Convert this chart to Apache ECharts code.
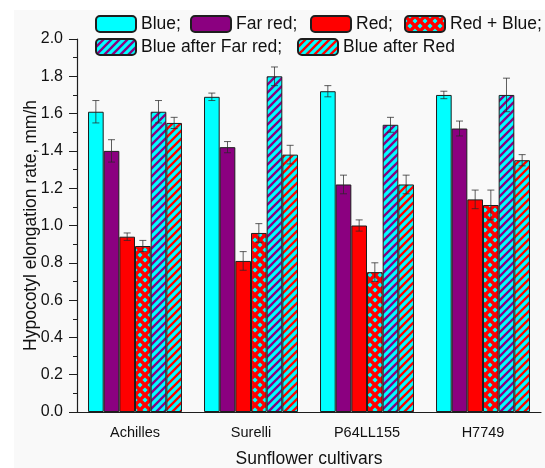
<!DOCTYPE html>
<html>
<head>
<meta charset="utf-8">
<script src="https://cdn.jsdelivr.net/npm/echarts@6/dist/echarts.min.js"></script>
<style>
  html, body { margin: 0; padding: 0; background: #ffffff; }
  #chart { width: 545px; height: 468px; }
</style>
</head>
<body>
<div id="chart"></div>
<script>
  // data
  var categories = ['Achilles', 'Surelli', 'P64LL155', 'H7749'];
  var seriesNames = ['Blue;', 'Far red;', 'Red;', 'Red + Blue;', 'Blue after Far red;', 'Blue after Red'];

  var blue = [1.61, 1.69, 1.72, 1.70];
  var farRed = [1.40, 1.42, 1.22, 1.52];
  var red = [0.94, 0.81, 1.00, 1.14];
  var redBlue = [0.89, 0.96, 0.75, 1.11];
  var blueAfterFarRed = [1.61, 1.80, 1.54, 1.70];
  var blueAfterRed = [1.55, 1.38, 1.22, 1.35];

  // standard errors
  var blueErr = [0.06, 0.02, 0.03, 0.02];
  var farRedErr = [0.06, 0.03, 0.05, 0.04];
  var redErr = [0.02, 0.05, 0.03, 0.05];
  var redBlueErr = [0.03, 0.05, 0.05, 0.08];
  var blueAfterFarRedErr = [0.06, 0.05, 0.04, 0.09];
  var blueAfterRedErr = [0.03, 0.05, 0.05, 0.03];

  var yTicks = [0, 0.2, 0.4, 0.6, 0.8, 1.0, 1.2, 1.4, 1.6, 1.8, 2.0];

  var values = [blue, farRed, red, redBlue, blueAfterFarRed, blueAfterRed];
  var errors = [blueErr, farRedErr, redErr, redBlueErr, blueAfterFarRedErr, blueAfterRedErr];

  var CYAN = '#00ffff';
  var PURPLE = '#8b0080';
  var RED = '#ff0000';
  var CAT_GAP = 0.19;

  // diagonal hatch tiles
  function stripes(bg, fg, size, lw) {
    var c = document.createElement('canvas');
    c.width = c.height = size;
    var g = c.getContext('2d');
    g.fillStyle = bg;
    g.fillRect(0, 0, size, size);
    g.strokeStyle = fg;
    g.lineWidth = lw;
    g.beginPath();
    for (var k = -1; k <= 1; k++) {
      g.moveTo(k * size - 1, size + 1);
      g.lineTo(k * size + size + 1, -1);
    }
    g.stroke();
    return c;
  }

  function cross(bg, fg, size, lw) {
    var c = stripes(bg, fg, size, lw);
    var g = c.getContext('2d');
    g.strokeStyle = fg;
    g.lineWidth = lw;
    g.beginPath();
    for (var k = -1; k <= 1; k++) {
      g.moveTo(k * size - 1, -1);
      g.lineTo(k * size + size + 1, size + 1);
    }
    g.stroke();
    return c;
  }

  var fills = [
    CYAN,
    PURPLE,
    RED,
    {image: cross(CYAN, RED, 10, 3.4), repeat: 'repeat'},
    {image: stripes(CYAN, PURPLE, 8, 2.4), repeat: 'repeat'},
    {image: stripes(CYAN, RED, 8, 2.4), repeat: 'repeat'}
  ];

  var legendPos = [[95, 15], [190, 15], [310, 15], [404, 15], [95, 38], [297, 38]];

  var barSeries = seriesNames.map(function (name, i) {
    return {
      name: name,
      type: 'bar',
      barGap: '0%',
      barCategoryGap: (CAT_GAP * 100) + '%',
      data: values[i],
      itemStyle: {color: fills[i], borderColor: '#1e1e1e', borderWidth: 1},
      emphasis: {disabled: true}
    };
  });

  var errData = [];
  errors.forEach(function (arr, s) {
    arr.forEach(function (e, c) {
      errData.push([c, s, values[s][c], e]);
    });
  });

  // error bars placed over each bar of the group
  var errSeries = {
    type: 'custom',
    z: 5,
    data: errData,
    encode: {x: 0, y: 2},
    renderItem: function (params, api) {
      var ci = api.value(0), si = api.value(1), v = api.value(2), e = api.value(3);
      var band = api.size([1, 0])[0];
      var groupW = band * (1 - CAT_GAP);
      var bw = groupW / seriesNames.length;
      var cx = api.coord([ci, v])[0] - groupW / 2 + (si + 0.5) * bw;
      var yTop = api.coord([ci, v + e])[1];
      var yBot = api.coord([ci, v - e])[1];
      var cap = 3.5;
      var st = {stroke: 'rgba(40,40,40,0.75)', lineWidth: 1};
      return {
        type: 'group',
        children: [
          {type: 'line', shape: {x1: cx, y1: yTop, x2: cx, y2: yBot}, style: st},
          {type: 'line', shape: {x1: cx - cap, y1: yTop, x2: cx + cap, y2: yTop}, style: st},
          {type: 'line', shape: {x1: cx - cap, y1: yBot, x2: cx + cap, y2: yBot}, style: st}
        ]
      };
    }
  };

  var font = 'Liberation Sans';

  var myChart = echarts.init(document.getElementById('chart'), null, {renderer: 'canvas'});
  myChart.setOption({
    animation: false,
    backgroundColor: '#ffffff',
    textStyle: {fontFamily: font},
    graphic: [{
      type: 'rect', z: -10, silent: true,
      shape: {x: 14, y: 10, width: 531, height: 458},
      style: {fill: '#f9f9f9'}
    }],
    legend: seriesNames.map(function (name, i) {
      return {
        data: [name],
        left: legendPos[i][0],
        top: legendPos[i][1],
        padding: 0,
        itemWidth: 40,
        itemHeight: 16,
        selectedMode: false,
        textStyle: {fontSize: 17.5, color: '#111', fontFamily: font}
      };
    }),
    grid: {left: 77, right: 4, top: 39, bottom: 56, outerBoundsMode: 'none'},
    xAxis: [
      {
        type: 'category',
        data: categories,
        name: 'Sunflower cultivars',
        nameLocation: 'middle',
        nameGap: 38,
        nameMoveOverlap: false,
        nameTextStyle: {fontSize: 17.5, color: '#111'},
        axisLine: {lineStyle: {color: '#1e1e1e', width: 1.2}},
        axisTick: {alignWithLabel: true, length: 8, lineStyle: {color: '#1e1e1e'}},
        axisLabel: {fontSize: 14.5, color: '#111', margin: 13}
      },
      {
        // short ticks between the cultivars
        type: 'category',
        data: categories,
        position: 'bottom',
        axisLine: {show: false},
        axisTick: {length: 4, lineStyle: {color: '#1e1e1e'}},
        axisLabel: {show: false}
      }
    ],
    yAxis: {
      type: 'value',
      min: yTicks[0],
      max: yTicks[yTicks.length - 1],
      interval: 0.2,
      name: 'Hypocotyl elongation rate, mm/h',
      nameLocation: 'middle',
      nameGap: 37,
      nameMoveOverlap: false,
      nameTextStyle: {fontSize: 17.5, color: '#111'},
      splitLine: {show: false},
      axisLine: {show: true, lineStyle: {color: '#1e1e1e', width: 1.2}},
      axisTick: {show: true, length: 8, lineStyle: {color: '#1e1e1e'}},
      minorTick: {show: true, splitNumber: 2, length: 4, lineStyle: {color: '#1e1e1e'}},
      axisLabel: {
        fontSize: 16, color: '#111', margin: 14,
        formatter: function (v) { return v.toFixed(1); }
      }
    },
    series: barSeries.concat([errSeries])
  });
</script>
</body>
</html>
